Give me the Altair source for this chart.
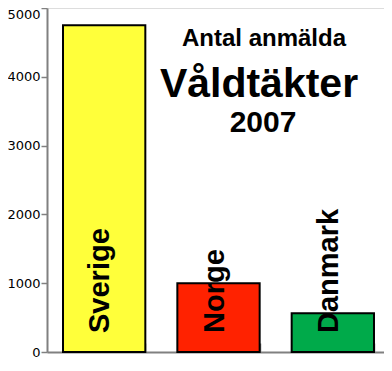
import altair as alt
import pandas as pd

countries = ["Sverige", "Norge", "Danmark"]
values = [4750, 1000, 565]
colors = ["#ffff3a", "#ff2200", "#00aa4a"]

title_lines = ["Antal anmälda", "Våldtäkter", "2007"]

df = pd.DataFrame({"land": countries, "antal": values, "color": colors})

W, H = 343, 344

x = alt.X("land:N", sort=countries,
          scale=alt.Scale(paddingInner=0.28, paddingOuter=0.14),
          axis=alt.Axis(orient="top", offset=-H, title=None, labels=False,
                        tickBand="extent", tickSize=9, tickColor="#808080",
                        domainColor="#808080", domainWidth=2, tickWidth=1.5))

y = alt.Y("antal:Q", scale=alt.Scale(domain=[0, 5000], nice=False),
          axis=alt.Axis(title=None, values=[0, 1000, 2000, 3000, 4000, 5000],
                        format="d", grid=False, tickSize=6, tickColor="#808080",
                        tickWidth=1.5, domainColor="#808080", domainWidth=2,
                        labelPadding=1, labelFont="DejaVu Sans", labelFontSize=13,
                        labelColor="#000000",
                        labelBaseline={"condition": {"test": "datum.value == 5000",
                                                     "value": "top"},
                                       "value": "middle"}))

bars = alt.Chart(df).mark_bar(stroke="black", strokeWidth=2).encode(
    x=x, y=y,
    color=alt.Color("color:N", scale=None),
)

labels = alt.Chart(df).mark_text(
    angle=270, align="left", baseline="middle", dx=19, dy=-4,
    font="Liberation Sans", fontWeight="bold", fontSize=29, color="black",
).encode(
    x=alt.X("land:N", sort=countries),
    y=alt.datum(0),
    text="land:N",
)

tdf = pd.DataFrame({"t": title_lines})
t1 = alt.Chart(tdf).transform_filter(alt.datum.t == title_lines[0]).mark_text(
    font="Liberation Sans", fontWeight="bold", fontSize=24, align="center",
    baseline="alphabetic", color="black").encode(
    text="t:N", x=alt.value(217), y=alt.value(38))
t2 = alt.Chart(tdf).transform_filter(alt.datum.t == title_lines[1]).mark_text(
    font="Liberation Sans", fontWeight="bold", fontSize=41, align="center",
    baseline="alphabetic", color="black").encode(
    text="t:N", x=alt.value(212), y=alt.value(89))
t3 = alt.Chart(tdf).transform_filter(alt.datum.t == title_lines[2]).mark_text(
    font="Liberation Sans", fontWeight="bold", fontSize=30, align="center",
    baseline="alphabetic", color="black").encode(
    text="t:N", x=alt.value(216), y=alt.value(124))

chart = alt.layer(bars, labels, t1, t2, t3).properties(
    width=W, height=H,
    autosize=alt.AutoSizeParams(type="none"),
    padding={"left": 39, "top": 0, "right": -6, "bottom": 10},
).configure_view(stroke=None).configure(background="white")

chart.save("out.html", embed_options={"renderer": "svg", "actions": False})
